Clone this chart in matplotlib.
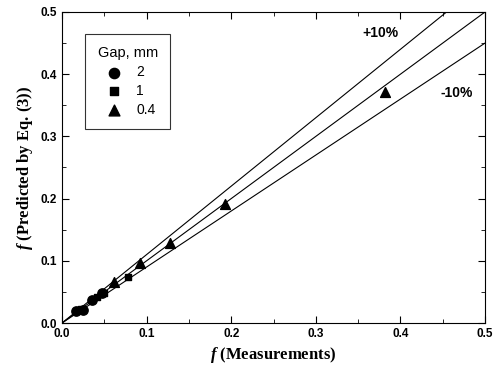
import matplotlib.pyplot as plt
import numpy as np
from matplotlib.ticker import MultipleLocator

plt.rcParams['mathtext.fontset'] = 'custom'
plt.rcParams['mathtext.it'] = 'Liberation Serif:italic:bold'

# gap 2 mm
meas_2 = [0.017, 0.025, 0.035, 0.047]
pred_2 = [0.019, 0.021, 0.037, 0.049]
# gap 1 mm
meas_1 = [0.022, 0.041, 0.050, 0.078]
pred_1 = [0.023, 0.042, 0.048, 0.074]
# gap 0.4 mm
meas_04 = [0.061, 0.092, 0.128, 0.193, 0.382]
pred_04 = [0.066, 0.096, 0.129, 0.191, 0.372]

fig = plt.figure(figsize=(4.93, 3.79), dpi=100)
ax = fig.add_axes([62/493, 1-323/379, 423/493, 311/379])

x = np.array([0, 0.5])
for k in [1.0, 1.1, 0.9]:
    ax.plot(x, k*x, color='black', lw=0.8)

ax.scatter(meas_2, pred_2, marker='o', s=45, color='black', label='2', zorder=3)
ax.scatter(meas_1, pred_1, marker='s', s=22, color='black', label='1', zorder=3)
ax.scatter(meas_04, pred_04, marker='^', s=50, color='black', label='0.4', zorder=3)

ax.text(0.376, 0.466, '+10%', fontsize=10, fontweight='bold', ha='center', va='center', family='Liberation Sans')
ax.text(0.467, 0.370, '-10%', fontsize=10, fontweight='bold', ha='center', va='center', family='Liberation Sans')

ax.set_xlim(0, 0.5)
ax.set_ylim(0, 0.5)
ax.xaxis.set_major_locator(MultipleLocator(0.1))
ax.yaxis.set_major_locator(MultipleLocator(0.1))
ax.xaxis.set_minor_locator(MultipleLocator(0.05))
ax.yaxis.set_minor_locator(MultipleLocator(0.05))
ax.tick_params(which='both', direction='in', top=True, right=True)
ax.tick_params(which='major', length=5)
ax.tick_params(which='minor', length=3)
for lab in ax.get_xticklabels() + ax.get_yticklabels():
    lab.set_fontweight('bold')
    lab.set_fontsize(8.5)
    lab.set_family('Liberation Sans')

ax.set_xlabel(r'$f$ (Measurements)', fontsize=12, fontweight='bold', family='Liberation Serif')
ax.set_ylabel(r'$f$ (Predicted by Eq. (3))', fontsize=12, fontweight='bold', family='Liberation Serif')

leg = ax.legend(title='Gap, mm', loc='upper left', bbox_to_anchor=(0.038, 0.952),
                frameon=True, fancybox=False, edgecolor='black', handletextpad=0.6,
                prop={'family': 'Liberation Sans', 'size': 10}, borderpad=0.9, labelspacing=0.35,
                markerscale=1.1)
leg.get_title().set_family('Liberation Sans')
leg.get_title().set_fontsize(10.5)
leg.get_frame().set_linewidth(0.8)

fig.savefig('out.png', dpi=100)
